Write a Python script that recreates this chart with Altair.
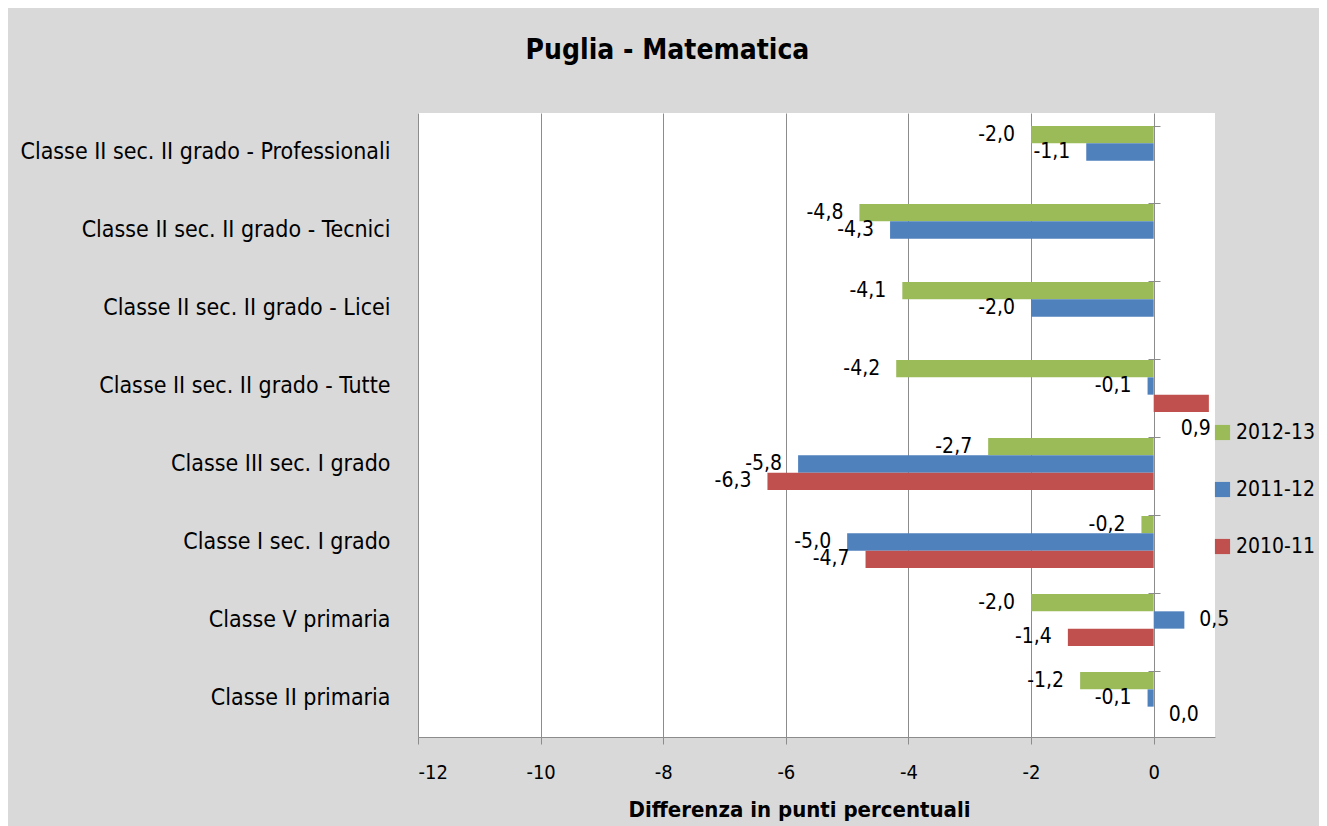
import altair as alt
import pandas as pd

categories = [
    "Classe II sec. II grado - Professionali",
    "Classe II sec. II grado - Tecnici",
    "Classe II sec. II grado - Licei",
    "Classe II sec. II grado - Tutte",
    "Classe III sec. I grado",
    "Classe I sec. I grado",
    "Classe V primaria",
    "Classe II primaria",
]
series = ["2012-13", "2011-12", "2010-11"]
v_2012_13 = [-2.0, -4.8, -4.1, -4.2, -2.7, -0.2, -2.0, -1.2]
v_2011_12 = [-1.1, -4.3, -2.0, -0.1, -5.8, -5.0, 0.5, -0.1]
v_2010_11 = [None, None, None, 0.9, -6.3, -4.7, -1.4, 0.0]
colors = ["#9BBB59", "#4F81BD", "#C0504D"]
x_ticks = [-12, -10, -8, -6, -4, -2, 0]

rows = []
for s, vals in zip(series, [v_2012_13, v_2011_12, v_2010_11]):
    for c, v in zip(categories, vals):
        if v is None:
            continue
        rows.append({"cat": c, "serie": s, "val": v,
                     "lab": f"{v:.1f}".replace(".", ",")})
df = pd.DataFrame(rows)

FONT = "DejaVu Sans Condensed, sans-serif"

y_scale = alt.Scale(paddingInner=0.333, paddingOuter=0.1667)
y_enc = alt.Y("cat:N", sort=categories, title=None, scale=y_scale,
              axis=alt.Axis(ticks=False, domain=False, labelPadding=28,
                            labelFontSize=23, labelColor="#000000",
                            labelFont=FONT, labelLimit=500))
y_plain = alt.Y("cat:N", sort=categories, title=None, axis=None)
yoff = alt.YOffset("serie:N", sort=series, scale=alt.Scale(domain=series, paddingInner=0, paddingOuter=0))
x_scale = alt.Scale(domain=[-12, 1], nice=False, zero=False)

bars = alt.Chart(df).mark_bar().encode(
    x=alt.X("val:Q", scale=x_scale,
            title="Differenza in punti percentuali",
            axis=alt.Axis(values=x_ticks, labelExpr="'' + datum.value",
                          grid=True, gridColor="#8c8c8c", gridWidth=1,
                          domainColor="#8c8c8c", tickColor="#8c8c8c",
                          tickSize=7, labelPadding=18, labelFontSize=20,
                          labelColor="#000000", labelFont=FONT,
                          titleFont=FONT, titleFontSize=22, titleFontWeight="bold",
                          titleColor="#000000", titlePadding=17,
                          titleX=381, titleAlign="center")),
    x2=alt.datum(0),
    y=y_enc,
    yOffset=yoff,
    color=alt.Color("serie:N", sort=series,
                    scale=alt.Scale(domain=series, range=colors),
                    legend=alt.Legend(title=None, orient="none", legendX=794, legendY=309,
                                      symbolType="square", symbolSize=230,
                                      symbolStrokeWidth=0, labelFontSize=21,
                                      labelFont=FONT, labelColor="#000000",
                                      rowPadding=35, labelOffset=3)),
)

# category separator ticks on the zero axis (Excel style)
sep = alt.Chart(df).mark_text(text="", opacity=0).encode(
    y=alt.Y("cat:N", sort=categories, title=None,
            axis=alt.Axis(orient="right", offset=-67, bandPosition=0, labels=False,
                          domain=False, ticks=True, tickSize=12, tickColor="#8c8c8c",
                          grid=False, title=None)),
)

neg = alt.Chart(df).transform_filter("datum.val < 0").mark_text(
    align="right", baseline="middle", dx=-16, fontSize=21, font=FONT, color="#000000"
).encode(x=alt.X("val:Q", scale=x_scale), y=y_plain, yOffset=yoff, text="lab:N")

pos = alt.Chart(df).transform_filter("datum.val >= 0 && datum.val < 0.8").mark_text(
    align="left", baseline="middle", dx=15, fontSize=21, font=FONT, color="#000000"
).encode(x=alt.X("val:Q", scale=x_scale), y=y_plain, yOffset=yoff, text="lab:N")

big = alt.Chart(df).transform_filter("datum.val >= 0.8").mark_text(
    align="right", baseline="middle", dx=2, dy=26, fontSize=21, font=FONT, color="#000000"
).encode(x=alt.X("val:Q", scale=x_scale), y=y_plain, yOffset=yoff, text="lab:N")

chart = alt.layer(bars, sep, neg, pos, big).resolve_axis(y="independent").properties(
    width=797, height=624,
    title=alt.TitleParams("Puglia  - Matematica", fontSize=28, fontWeight="bold",
                          font=FONT, color="#000000", frame="bounds", anchor="middle",
                          offset=48),
    autosize=alt.AutoSizeParams(type="none"),
    padding={"left": 410, "top": 105, "right": 104, "bottom": 89},
).configure(background="#d9d9d9").configure_view(fill="#ffffff", stroke=None)

chart.save("out.html", embed_options={"renderer": "svg", "actions": False})
